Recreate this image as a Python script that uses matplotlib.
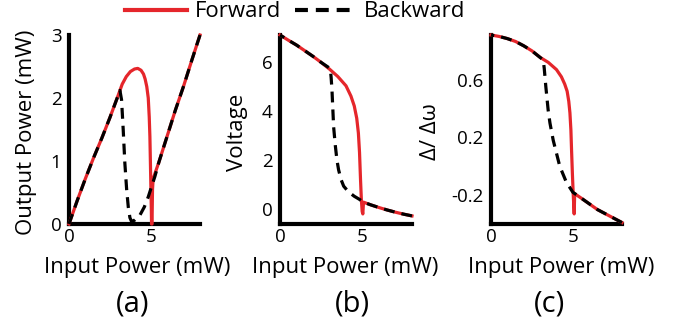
import matplotlib.pyplot as plt
from matplotlib.lines import Line2D

plt.rcParams["font.family"] = ["Open Sans", "DejaVu Sans"]

# (a) output power vs input power
a_fwd_x = [0, 0.5, 1.0, 1.5, 2.0, 2.5, 3.0, 3.25, 3.5, 3.75, 4.0, 4.2, 4.4, 4.55, 4.65,
           4.75, 4.84, 4.9, 4.94, 4.97, 5.0, 5.03, 5.04, 5.07, 5.1, 5.14, 5.5, 6.0, 6.5,
           7.0, 7.5, 8.0]
a_fwd_y = [0, 0.37, 0.72, 1.05, 1.36, 1.69, 2.04, 2.22, 2.34, 2.42, 2.46, 2.47, 2.44, 2.38, 2.3,
           2.18, 2.0, 1.7, 1.39, 1.0, 0.59, 0.2, 0.0, 0.0, 0.55, 0.72, 0.99, 1.4, 1.81,
           2.19, 2.6, 3.0]
a_bwd_x = [8.0, 7.5, 7.0, 6.5, 6.0, 5.5, 5.24, 5.05, 4.84, 4.6, 4.33, 4.0, 3.82, 3.72, 3.62,
           3.52, 3.41, 3.31, 3.21, 3.11, 3.0, 2.5, 2.0, 1.5, 1.0, 0.5, 0]
a_bwd_y = [3.0, 2.6, 2.19, 1.81, 1.4, 0.99, 0.75, 0.6, 0.43, 0.27, 0.14, 0.06, 0.04, 0.1, 0.27,
           0.55, 0.97, 1.5, 1.97, 2.12, 2.04, 1.69, 1.36, 1.05, 0.72, 0.37, 0]

# (b) voltage vs input power
b_fwd_x = [0, 0.5, 1.0, 1.5, 2.0, 2.5, 3.0, 3.5, 4.0, 4.3, 4.5, 4.65, 4.75, 4.82, 4.88,
           4.93, 4.98, 5.02, 5.06, 5.5, 6.0, 6.5, 7.0, 7.5, 8.0]
b_fwd_y = [7.09, 6.88, 6.68, 6.45, 6.22, 5.97, 5.7, 5.4, 5.02, 4.6, 4.2, 3.7, 3.1, 2.3, 1.2,
           0.4, -0.1, -0.2, 0.28, 0.17, 0.06, -0.04, -0.13, -0.21, -0.28]
b_bwd_x = [8.0, 7.5, 7.0, 6.5, 6.0, 5.5, 5.06, 4.8, 4.5, 4.27, 4.05, 3.86, 3.7, 3.55, 3.45,
           3.35, 3.25, 3.2, 3.15, 3.1, 3.05, 2.5, 2.0, 1.5, 1.0, 0.5, 0]
b_bwd_y = [-0.28, -0.21, -0.13, -0.04, 0.06, 0.17, 0.28, 0.4, 0.52, 0.64, 0.78, 0.93, 1.2, 1.6, 2.0,
           2.6, 3.35, 4.1, 4.85, 5.35, 5.72, 5.97, 6.22, 6.45, 6.68, 6.88, 7.09]

# (c) normalized detuning vs input power
c_fwd_x = [0, 0.5, 1.0, 1.5, 2.0, 2.5, 3.0, 3.5, 4.0, 4.3, 4.5, 4.65, 4.75, 4.82, 4.88,
           4.92, 4.97, 5.02, 5.08, 5.11, 5.5, 6.0, 6.5, 7.0, 7.5, 8.0]
c_fwd_y = [0.91, 0.9, 0.885, 0.865, 0.835, 0.8, 0.755, 0.72, 0.67, 0.62, 0.57, 0.52, 0.45, 0.37, 0.25,
           0.11, -0.05, -0.19, -0.33, -0.19, -0.22, -0.26, -0.3, -0.33, -0.36, -0.39]
c_bwd_x = [8.0, 7.5, 7.0, 6.5, 6.0, 5.5, 5.0, 4.6, 4.2, 3.8, 3.6, 3.49, 3.35, 3.25, 3.19,
           2.5, 2.0, 1.5, 1.0, 0.5, 0]
c_bwd_y = [-0.39, -0.36, -0.33, -0.3, -0.26, -0.22, -0.18, -0.11, 0.0, 0.18, 0.3, 0.39, 0.55, 0.68, 0.737,
           0.8, 0.835, 0.865, 0.885, 0.9, 0.91]

panels = [
  dict(left=69, right=200, fx=a_fwd_x, fy=a_fwd_y, bx=a_bwd_x, by=a_bwd_y,
       ylim=(0, 3.0), yticks=[0, 1, 2, 3], yticklabels=["0", "1", "2", "3"],
       ylabel="Output Power (mW)", ylab_x=-0.282, xlab_x=0.523, tag="(a)", tag_x=0.485),
  dict(left=280, right=412, fx=b_fwd_x, fy=b_fwd_y, bx=b_bwd_x, by=b_bwd_y,
       ylim=(-0.61, 7.09), yticks=[0, 2, 4, 6], yticklabels=["0", "2", "4", "6"],
       ylabel="Voltage", ylab_x=-0.28, xlab_x=0.495, tag="(b)", tag_x=0.545),
  dict(left=491, right=622, fx=c_fwd_x, fy=c_fwd_y, bx=c_bwd_x, by=c_bwd_y,
       ylim=(-0.40, 0.91), yticks=[0.6, 0.2, -0.2], yticklabels=["0.6", "0.2", "-0.2"],
       ylabel="Δ/ Δω", ylab_x=-0.42, xlab_x=0.538, tag="(c)", tag_x=0.45),
]

RED = "#e5262b"
W, H = 674, 322
top_px, bot_px = 35, 224

fig = plt.figure(figsize=(W / 100, H / 100), dpi=100)

for p in panels:
  ax = fig.add_axes([p["left"] / W, 1 - bot_px / H, (p["right"] - p["left"]) / W,
                     (bot_px - top_px) / H])
  ax.plot(p["fx"], p["fy"], color=RED, lw=2.3, clip_on=False, zorder=3)
  ax.plot(p["bx"], p["by"], color="black", lw=2.3, ls=(0, (3.4, 2.2)),
          clip_on=False, zorder=4)
  ax.set_xlim(0, 8)
  ax.set_ylim(*p["ylim"])
  ax.set_xticks([0, 5])
  ax.set_xticklabels(["0", "5"])
  ax.set_yticks(p["yticks"])
  ax.set_yticklabels(p["yticklabels"])
  ax.tick_params(length=0, labelsize=13.5)
  ax.tick_params(axis="x", pad=3)
  ax.tick_params(axis="y", pad=5.5)
  for s in ("top", "right"):
    ax.spines[s].set_visible(False)
  for s in ("left", "bottom"):
    ax.spines[s].set_linewidth(3)
    ax.spines[s].set_capstyle("projecting")
  ax.set_xlabel("Input Power (mW)", fontsize=16, va="baseline")
  ax.xaxis.set_label_coords(p["xlab_x"], -0.259)
  ax.set_ylabel(p["ylabel"], fontsize=16, va="baseline")
  ax.yaxis.set_label_coords(p["ylab_x"], 0.487)
  ax.text(p["tag_x"], -0.423, p["tag"], transform=ax.transAxes, ha="center",
          va="center", fontsize=21)

handles = [
  Line2D([], [], color=RED, lw=3, label="Forward"),
  Line2D([], [], color="black", lw=3, ls=(0, (3.1, 1.9)), label="Backward"),
]
fig.legend(handles=handles, loc="center", bbox_to_anchor=(0.438, 0.963), ncol=2,
           frameon=False, fontsize=16, handlelength=2.8, handletextpad=0.32,
           columnspacing=0.63, borderpad=0, borderaxespad=0)

fig.savefig("out.png", dpi=100)
